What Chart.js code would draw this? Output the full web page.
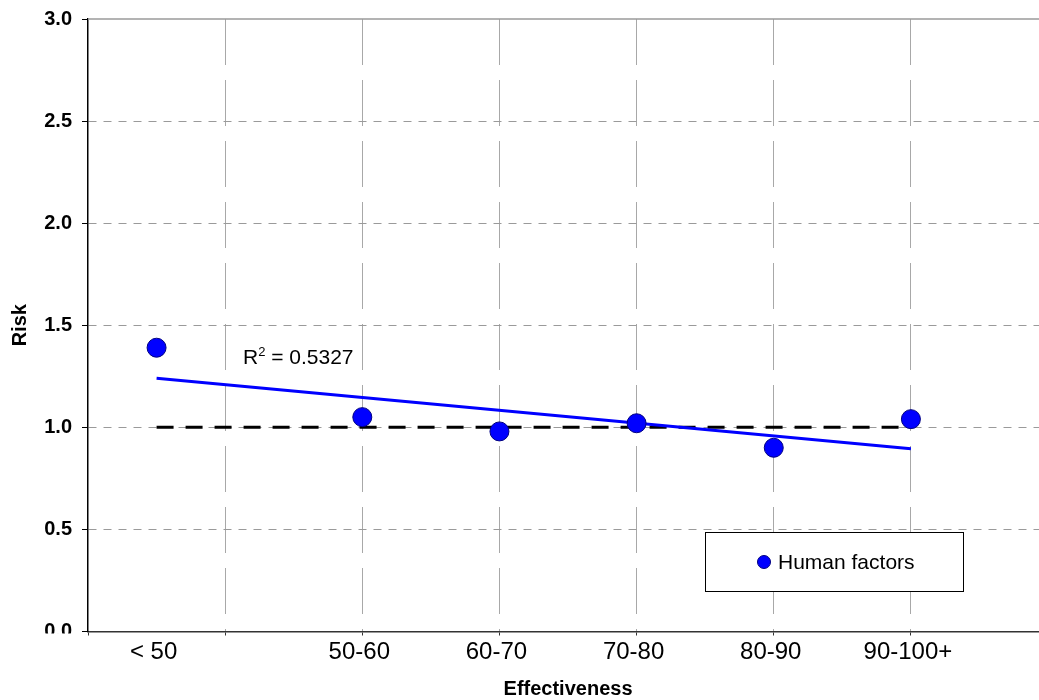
<!DOCTYPE html>
<html>
<head>
<meta charset="utf-8">
<script src="https://cdn.jsdelivr.net/npm/chart.js@4/dist/chart.umd.min.js"></script>
<style>
  html, body { margin: 0; padding: 0; background: #fff; overflow: hidden; }
  canvas#c { display: block; }
</style>
</head>
<body>
<canvas id="c" width="1039" height="700"></canvas>
<script>
// ---- data ----
const categories = ['< 50', '50-60', '60-70', '70-80', '80-90', '90-100+'];
const categoryX = [0.5, 2, 3, 4, 5, 6];
const riskValues = [1.39, 1.05, 0.98, 1.02, 0.90, 1.04];
const trendX = [0.5, 6];
const trendY = [1.24, 0.895];
const baselineX = [0.5, 6];
const baselineY = [1.0, 1.0];
const gridX = [0, 1, 2, 3, 4, 5, 6];
const yTickValues = [0, 0.5, 1.0, 1.5, 2.0, 2.5, 3.0];
const seriesName = 'Human factors';
const r2Text = { base: 'R', sup: '2', rest: ' = 0.5327', x: 1.13, y: 1.312 };
const xTitle = 'Effectiveness';
const yTitle = 'Risk';

// the original plot area runs to x = 7, just past the right edge of the picture
const X_MIN = 0, X_MAX = 6.934, X_TITLE_CENTER = 3.5;

const FONT = "'Liberation Sans', Arial, sans-serif";
const toXY = (xs, ys) => xs.map((x, i) => ({ x: x, y: ys[i] }));
const tickPositions = Array.from(new Set(gridX.concat(categoryX))).sort((a, b) => a - b);

const extrasPlugin = {
  id: 'extras',
  afterDatasetsDraw(chart) {
    const { ctx, chartArea, scales } = chart;
    ctx.save();
    // solid top border of plot area
    ctx.strokeStyle = '#9a9a9a';
    ctx.lineWidth = 1.5;
    ctx.beginPath();
    ctx.moveTo(chartArea.left, chartArea.top);
    ctx.lineTo(chartArea.right, chartArea.top);
    ctx.stroke();

    // R^2 annotation
    const px = scales.x.getPixelForValue(r2Text.x);
    const py = scales.y.getPixelForValue(r2Text.y);
    ctx.fillStyle = '#000';
    ctx.textBaseline = 'alphabetic';
    ctx.textAlign = 'left';
    ctx.font = '21px ' + FONT;
    ctx.fillText(r2Text.base, px, py);
    let w = ctx.measureText(r2Text.base).width;
    ctx.font = '13px ' + FONT;
    ctx.fillText(r2Text.sup, px + w, py - 8);
    w += ctx.measureText(r2Text.sup).width;
    ctx.font = '21px ' + FONT;
    ctx.fillText(r2Text.rest, px + w, py);

    // legend box
    const bx = chartArea.left + 617, by = chartArea.top + 513, bw = 258, bh = 59;
    ctx.fillStyle = '#fff';
    ctx.fillRect(bx, by, bw, bh);
    ctx.strokeStyle = '#000';
    ctx.lineWidth = 1;
    ctx.strokeRect(bx + 0.5, by + 0.5, bw, bh);
    ctx.beginPath();
    ctx.arc(bx + 59, by + 30, 6.5, 0, Math.PI * 2);
    ctx.fillStyle = '#0000FF';
    ctx.fill();
    ctx.strokeStyle = '#000080';
    ctx.lineWidth = 1;
    ctx.stroke();
    ctx.fillStyle = '#000';
    ctx.font = '21px ' + FONT;
    ctx.textBaseline = 'middle';
    ctx.fillText(seriesName, bx + 73, by + 31);
    ctx.restore();
  },
  afterDraw(chart) {
    const { ctx, chartArea, scales } = chart;
    ctx.save();
    // the lowest y tick label is cut off just below the axis
    ctx.fillStyle = '#fff';
    ctx.fillRect(0, chartArea.bottom + 2, chartArea.left - 8, 30);
    // x axis title, centred on the full (partly off-picture) plot width
    ctx.fillStyle = '#000';
    ctx.font = 'bold 20px ' + FONT;
    ctx.textAlign = 'center';
    ctx.textBaseline = 'middle';
    ctx.fillText(xTitle, scales.x.getPixelForValue(X_TITLE_CENTER), chart.height - 11);
    ctx.restore();
  }
};

new Chart(document.getElementById('c'), {
  type: 'scatter',
  data: {
    datasets: [
      {
        label: seriesName,
        data: toXY(categoryX, riskValues),
        backgroundColor: '#0000FF',
        borderColor: '#000080',
        borderWidth: 1,
        pointRadius: 9.5,
        pointHoverRadius: 9.5
      },
      {
        label: 'trend',
        data: toXY(trendX, trendY),
        showLine: true,
        borderColor: '#0000FF',
        borderWidth: 3,
        pointRadius: 0,
        fill: false
      },
      {
        label: 'baseline',
        data: toXY(baselineX, baselineY),
        showLine: true,
        borderColor: '#000000',
        borderWidth: 3,
        borderDash: [17, 12],
        pointRadius: 0,
        fill: false
      }
    ]
  },
  options: {
    responsive: false,
    maintainAspectRatio: false,
    animation: false,
    devicePixelRatio: 1,
    layout: { autoPadding: false, padding: { left: 0, top: 19, right: 0, bottom: 0 } },
    plugins: {
      legend: { display: false },
      tooltip: { enabled: false }
    },
    scales: {
      x: {
        type: 'linear',
        min: X_MIN,
        max: X_MAX,
        afterBuildTicks: (scale) => { scale.ticks = tickPositions.map(v => ({ value: v })); },
        afterFit: (scale) => {
          scale.height = 68.5;
          scale.paddingLeft = 0; scale.paddingRight = 0;
        },
        ticks: {
          autoSkip: false,
          maxRotation: 0,
          padding: 2,
          labelOffset: -3,
          color: '#000',
          font: { family: FONT, size: 24 },
          callback: (value) => {
            const i = categoryX.indexOf(value);
            return i >= 0 ? categories[i] : '';
          }
        },
        grid: {
          color: (c) => (c.tick && Number.isInteger(c.tick.value) && c.tick.value > 0) ? '#a8a8a8' : 'rgba(0,0,0,0)',
          lineWidth: 1,
          tickLength: 4,
          tickColor: (c) => (c.tick && Number.isInteger(c.tick.value)) ? '#333' : 'rgba(0,0,0,0)'
        },
        border: { display: true, color: '#333', width: 1.5, dash: [46, 15] },
        title: { display: false }
      },
      y: {
        min: 0,
        max: 3,
        afterBuildTicks: (scale) => { scale.ticks = yTickValues.map(v => ({ value: v })); },
        afterFit: (scale) => {
          scale.width = 88;
          scale.paddingTop = 0; scale.paddingBottom = 0;
        },
        ticks: {
          padding: 10,
          color: '#000',
          font: { family: FONT, size: 20, weight: 'bold' },
          callback: (v) => Number(v).toFixed(1)
        },
        grid: {
          color: (c) => (c.tick && c.tick.value > 0 && c.tick.value < 3) ? '#9a9a9a' : 'rgba(0,0,0,0)',
          lineWidth: 1,
          tickLength: 6,
          tickColor: '#000'
        },
        border: { display: true, color: '#000', width: 1.5, dash: [8, 7] },
        title: {
          display: true,
          text: yTitle,
          color: '#000',
          font: { family: FONT, size: 20, weight: 'bold', lineHeight: 1.2 },
          padding: { top: 8, bottom: 0 }
        }
      }
    }
  },
  plugins: [extrasPlugin]
});
</script>
</body>
</html>
